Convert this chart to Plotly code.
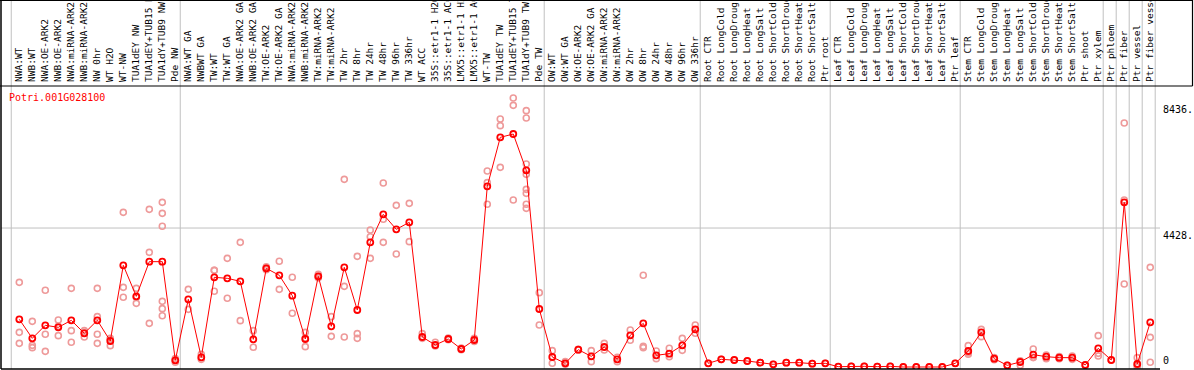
import plotly.graph_objects as go

gene = "Potri.001G028100"

categories = [
    "NWA:WT", "NWB:WT", "NWA:OE-ARK2", "NWB:OE-ARK2", "NWA:miRNA-ARK2", "NWB:miRNA-ARK2",
    "NW 0hr", "WT H2O", "WT-NW", "TUA1dEY NW", "TUA1dEY+TUB15 NW", "TUA1dY+TUB9 NW", "Pde NW",
    "NWA:WT GA", "NWBWT GA", "TW:WT", "TW:WT GA", "NWA:OE-ARK2 GA", "NWB:OE-ARK2 GA",
    "TW:OE-ARK2", "TW:OE-ARK2 GA", "NWA:miRNA-ARK2", "NWB:miRNA-ARK2", "TW:miRNA-ARK2",
    "TW:miRNA-ARK2", "TW 2hr", "TW 8hr", "TW 24hr", "TW 48hr", "TW 96hr", "TW 336hr",
    "WT ACC", "35S::etr1-1 H2O", "35S::etr1-1 ACC", "LMX5::etr1-1 H2O", "LMX5::etr1-1 ACC",
    "WT-TW", "TUA1dEY TW", "TUA1dEY+TUB15 TW", "TUA1dY+TUB9 TW", "Pde TW",
    "OW:WT", "OW:WT GA", "OW:OE-ARK2", "OW:OE-ARK2 GA", "OW:miRNA-ARK2", "OW:miRNA-ARK2",
    "OW 2hr", "OW 8hr", "OW 24hr", "OW 48hr", "OW 96hr", "OW 336hr",
    "Root CTR", "Root LongCold", "Root LongDrought", "Root LongHeat", "Root LongSalt",
    "Root ShortCold", "Root ShortDrought", "Root ShortHeat", "Root ShortSalt", "Ptr root",
    "Leaf CTR", "Leaf LongCold", "Leaf LongDrought", "Leaf LongHeat", "Leaf LongSalt",
    "Leaf ShortCold", "Leaf ShortDrought", "Leaf ShortHeat", "Leaf ShortSalt", "Ptr leaf",
    "Stem CTR", "Stem LongCold", "Stem LongDrought", "Stem LongHeat", "Stem LongSalt",
    "Stem ShortCold", "Stem ShortDrought", "Stem ShortHeat", "Stem ShortSalt", "Ptr shoot",
    "Ptr xylem", "Ptr phloem", "Ptr fiber", "Ptr vessel", "Ptr fiber vessel",
]

means = [
    1519, 913, 1328, 1264, 1487, 1073, 1487, 828, 3239, 2251, 3356, 3356, 212,
    2156, 308, 2857, 2825, 2729, 881, 3144, 2921, 2273, 892, 2889, 1296, 3175, 1816,
    3972, 4864, 4386, 4609, 956, 701, 892, 573, 860, 5756, 7317, 7423, 6266, 1848,
    319, 117, 552, 340, 637, 244, 1009, 1391, 372, 425, 690, 1200,
    117, 244, 223, 191, 138, 85, 138, 138, 106, 117,
    10, 21, 21, 11, 21, 0, 0, 0, 0, 117,
    510, 1104, 266, 53, 159, 393, 329, 297, 297, 64, 595, 223, 5246, 96, 1423,
]

replicates = [
    [2697, 1104, 754], [1455, 690, 616], [2443, 1041, 499], [1497, 998, 1297],
    [2506, 1158, 786], [1104, 956, 1160], [2506, 1604, 1041, 754], [913, 680, 890],
    [4928, 2538, 2220], [2506, 2028, 2220], [5023, 3653, 1391],
    [5246, 4896, 4482, 2092, 1859, 1635], [150, 270, 220],
    [2474, 1837], [404, 244], [3080, 2411, 3080], [3462, 2188], [3972, 1476],
    [1158, 627], [3144, 3100, 3190], [3367, 2474], [2857, 1710], [1104, 648, 920],
    [2952, 2878, 2840], [1604, 977], [5979, 2570, 956], [3526, 1062, 913],
    [4365, 4152, 3462], [5862, 4705, 3972], [5151, 3600], [5214, 3993],
    [1062, 913], [786, 669], [920, 870], [600, 550], [913, 810],
    [6245, 5873, 5183], [7901, 7689, 6361], [8570, 8337, 5321],
    [8167, 7933, 6468, 6138, 5660, 5533, 5183, 5055], [2368, 1338],
    [520, 117], [170, 85], [560, 540], [520, 170], [754, 542], [308, 170],
    [1179, 850], [2921, 658, 616], [510, 266], [595, 329], [913, 531], [1338, 1073],
    [117], [244], [223], [191], [138], [85], [138], [138], [106], [117],
    [10], [21], [21], [11], [21], [0], [0], [0], [0], [117],
    [680, 404, 450], [1200, 966], [300, 230], [53], [200, 53], [573, 308, 300],
    [382, 266], [330, 265], [350, 244], [64], [998, 350, 435], [223],
    [7774, 5321, 2644], [297, 53, 0], [3175, 945, 149],
]

group_ends = [-1, 12, 40, 52, 62, 72, 83, 84, 85, 86, 87]
y_ticks = [8436, 4428, 0]
y_tick_text = ["8436.", "4428.", "0"]

FONT = "DejaVu Sans Mono"
W, H = 1194, 370
ML, MR, MT, MB = 1, 34, 86, 1
XR = [-1.408, 87.75]
YR = [-64, 8953]

idx = list(range(len(categories)))
rx, ry = [], []
for i, reps in enumerate(replicates):
    for v in reps:
        rx.append(i)
        ry.append(v)

fig = go.Figure()
fig.add_trace(go.Scatter(
    x=rx, y=ry, mode="markers",
    marker=dict(symbol="circle-open", size=6, color="#ee9a9a", line=dict(width=1.6, color="#ee9a9a")),
    hoverinfo="skip", showlegend=False,
))
fig.add_trace(go.Scatter(
    x=idx, y=means, mode="lines+markers",
    line=dict(color="#ff0000", width=1),
    marker=dict(symbol="circle-open", size=6, color="#ff0000", line=dict(width=1.8, color="#ff0000")),
    showlegend=False,
))

pw = W - ML - MR
ph = H - MT - MB

def px_x(i):
    return (i - XR[0]) / (XR[1] - XR[0])

shapes = []
top_paper = (H - MB) / ph
for g in group_ends:
    xp = px_x(g + 0.38)
    shapes.append(dict(type="line", xref="paper", yref="paper", x0=xp, x1=xp, y0=0, y1=top_paper,
                       line=dict(color="#c0c0c0", width=1), layer="below"))
# horizontal grid at 4428
shapes.append(dict(type="line", xref="paper", yref="y", x0=0, x1=1, y0=y_ticks[1], y1=y_ticks[1],
                   line=dict(color="#c0c0c0", width=1), layer="below"))
# frame lines
right_p = (W - 1.5 - ML) / pw
shapes += [
    dict(type="line", xref="paper", yref="paper", x0=-ML / pw, x1=right_p, y0=1, y1=1,
         line=dict(color="black", width=1.2)),
    dict(type="line", xref="paper", yref="paper", x0=-ML / pw, x1=right_p, y0=top_paper - 0.5 / ph, y1=top_paper - 0.5 / ph,
         line=dict(color="black", width=1.2)),
    dict(type="line", xref="paper", yref="paper", x0=right_p, x1=right_p, y0=1, y1=top_paper,
         line=dict(color="black", width=1.2)),
    dict(type="line", xref="paper", yref="paper", x0=0, x1=0, y0=0, y1=top_paper,
         line=dict(color="black", width=1.5)),
    dict(type="line", xref="paper", yref="paper", x0=0, x1=1, y0=0, y1=0,
         line=dict(color="black", width=1.5)),
]

annotations = [
    dict(text=gene, xref="paper", yref="paper", x=(8 - ML) / pw, y=(H - MB - 91) / ph,
         xanchor="left", yanchor="top", showarrow=False, font=dict(family=FONT, size=10, color="#ff0000"),
         borderpad=0),
]
for v, t in zip(y_ticks, y_tick_text):
    a = dict(text=t, xref="paper", yref="y", x=(1162 - ML) / pw, y=v, xanchor="left",
             showarrow=False, font=dict(family=FONT, size=10, color="black"), borderpad=0)
    if v == 0:
        a.update(yanchor="bottom", yshift=0)
    else:
        a.update(yanchor="top", yshift=-1)
    annotations.append(a)

fig.update_layout(
    width=W, height=H,
    margin=dict(l=ML, r=MR, t=MT, b=MB, pad=0),
    paper_bgcolor="white", plot_bgcolor="white",
    xaxis=dict(range=XR, side="top", tickmode="array", tickvals=idx, ticktext=categories,
               tickangle=-90, tickfont=dict(family=FONT, size=9.5, color="black"),
               showgrid=False, zeroline=False, showline=False, ticks="", ticklabelstandoff=3,
               automargin=False, fixedrange=True),
    yaxis=dict(range=YR, showgrid=False, zeroline=False, showticklabels=False, showline=False,
               automargin=False, fixedrange=True),
    shapes=shapes, annotations=annotations,
)

fig.write_html(
    "out.html",
    config={"displayModeBar": False},
    post_script="document.body.style.margin='0';document.body.style.overflow='hidden';",
)
